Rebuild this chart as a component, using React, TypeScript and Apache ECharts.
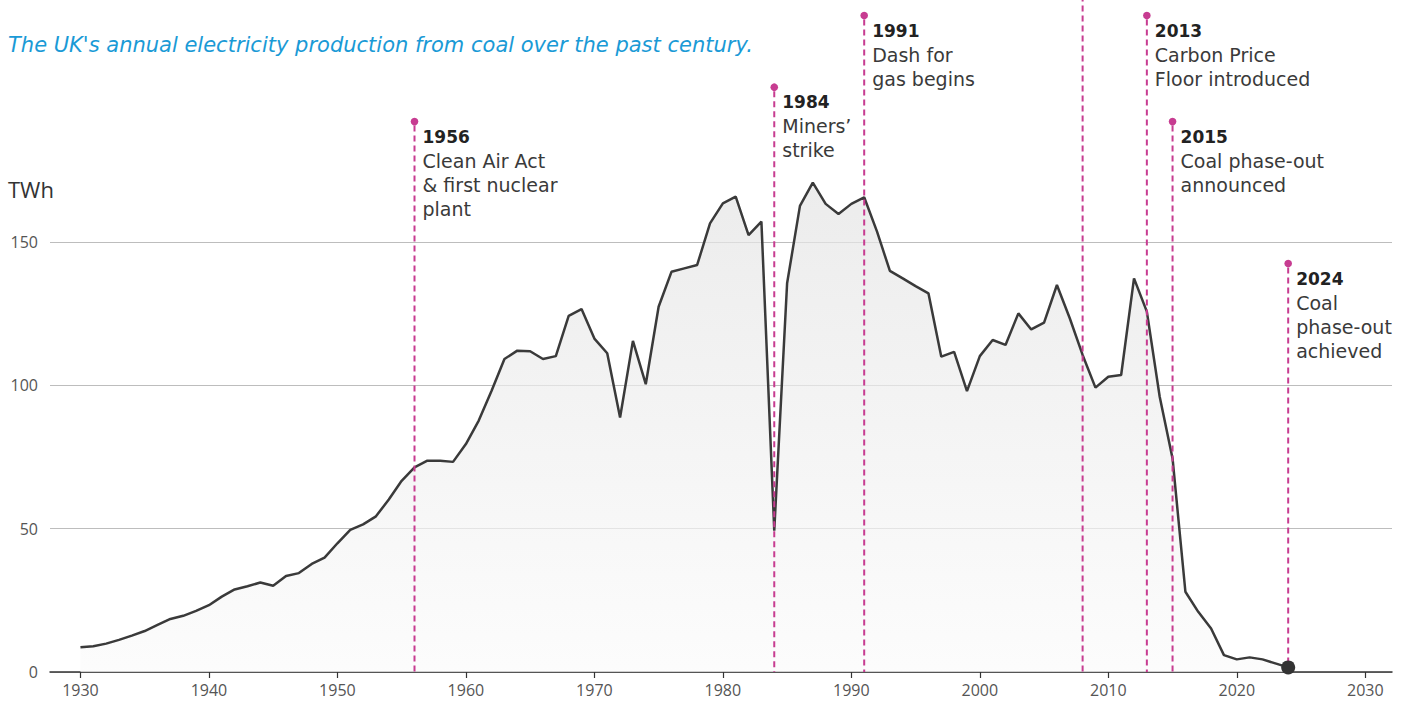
import React, { useEffect, useRef } from "react";
import * as echarts from "echarts";

const START_YEAR = 1930;
const coalTWh = [
  8.6, 9.0, 9.9, 11.2, 12.7, 14.3, 16.4, 18.5, 19.6, 21.3,
  23.3, 26.3, 28.8, 29.9, 31.2, 30.1, 33.5, 34.5, 37.7, 39.9,
  44.9, 49.6, 51.5, 54.3, 60.2, 66.7, 71.4, 73.7, 73.7, 73.3,
  79.5, 87.7, 98.1, 109.2, 112.1, 111.9, 109.2, 110.2, 124.2, 126.6,
  116.3, 111.2, 88.8, 115.5, 100.4, 127.4, 139.6, 140.8, 142.0, 156.5,
  163.5, 165.8, 152.4, 157.1, 49.3, 135.6, 162.6, 170.7, 163.3, 159.8,
  163.3, 165.6, 153.6, 139.9, 137.3, 134.6, 132.1, 110.0, 111.7, 98.0,
  110.2, 115.8, 114.1, 125.1, 119.5, 121.9, 135.0, 123.4, 110.6, 99.2,
  103.0, 103.6, 137.3, 125.7, 96.0, 74.5, 28.0, 21.0, 15.2, 5.9,
  4.4, 5.1, 4.4, 3.0, 1.6,
];

const xTicks = [1930, 1940, 1950, 1960, 1970, 1980, 1990, 2000, 2010, 2020, 2030];
const yTicks = [0, 50, 100, 150];

const annoYears = [1956, 1984, 1991, 2013, 2015, 2024];
const annoTops = [192, 204, 229, 229, 192, 142.5];
const annoTitles = ["1956", "1984", "1991", "2013", "2015", "2024"];
const annoLines = [
  ["Clean Air Act", "& first nuclear", "plant"],
  ["Miners’", "strike"],
  ["Dash for", "gas begins"],
  ["Carbon Price", "Floor introduced"],
  ["Coal phase-out", "announced"],
  ["Coal", "phase-out", "achieved"],
];
const plainLineYears = [2008];
const plainLineTops = [236];

const TITLE = "The UK's annual electricity production from coal over the past century.";
const UNIT = "TWh";

const MAGENTA = "#c73c91";
const FONT = '"Open Sans", sans-serif';
const AFONT = '"DejaVu Sans", sans-serif';

export default function App() {
  const ref = useRef<HTMLDivElement>(null);
  useEffect(() => {
    document.body.style.margin = "0";
    const chart = echarts.init(ref.current!, undefined, { renderer: "svg" });
    const data = coalTWh.map((v, i) => [START_YEAR + i, v]);
    const last = data[data.length - 1];
    chart.setOption({
      animation: false,
      grid: { left: 50, right: 17, top: 98.67, bottom: 33 },
      xAxis: {
        type: "value",
        min: 1927.63,
        max: 2032.08,
        axisLine: { show: true, lineStyle: { color: "#333", width: 1.5 } },
        axisTick: { show: true, length: 6, lineStyle: { color: "#333", width: 1.2 }, customValues: xTicks },
        axisLabel: { color: "#555", fontSize: 16, fontFamily: FONT, margin: 10, customValues: xTicks, formatter: (v: number) => String(v) },
        splitLine: { show: false },
      },
      yAxis: {
        type: "value",
        min: 0,
        max: 200,
        interval: 50,
        axisLine: { show: false },
        axisTick: { show: false },
        axisLabel: {
          color: "#555",
          fontSize: 16,
          fontFamily: FONT,
          margin: 12,
          showMaxLabel: false,
          formatter: (v: number) => (yTicks.includes(v) ? String(v) : ""),
        },
        splitLine: { show: true, showMaxLine: false, lineStyle: { color: "#bdbdbd", width: 1 } },
      },
      series: [
        {
          type: "line",
          data,
          symbol: "none",
          lineStyle: { color: "#3a3a3a", width: 2.5 },
          areaStyle: {
            color: new echarts.graphic.LinearGradient(0, 0, 0, 1, [
              { offset: 0, color: "#e4e4e4" },
              { offset: 1, color: "#fbfbfb" },
            ]),
          },
          z: 3,
        },
        {
          type: "scatter",
          data: [last],
          symbolSize: 14,
          itemStyle: { color: "#333", opacity: 1 },
          z: 6,
        },
      ],
    });

    const px = (x: number, y: number) => chart.convertToPixel({ gridIndex: 0 }, [x, y]) as number[];
    const graphics: any[] = [
      {
        type: "text",
        style: { text: TITLE, x: 8, y: 45, font: `italic 21px ${AFONT}`, fill: "#1a9ad6", verticalAlign: "middle" },
      },
      {
        type: "text",
        style: { text: UNIT, x: 8, y: 189, font: `22px ${FONT}`, fill: "#333", verticalAlign: "middle" },
      },
    ];
    plainLineYears.forEach((yr, i) => {
      const top = px(yr, plainLineTops[i]);
      const bot = px(yr, 0);
      graphics.push({
        type: "line",
        shape: { x1: top[0], y1: top[1], x2: bot[0], y2: bot[1] },
        style: { stroke: MAGENTA, lineWidth: 2, lineDash: [6, 4] },
        z: 5,
      });
    });
    annoYears.forEach((yr, i) => {
      const top = px(yr, annoTops[i]);
      const bot = px(yr, 0);
      graphics.push({
        type: "line",
        shape: { x1: top[0], y1: top[1] + 4, x2: bot[0], y2: bot[1] },
        style: { stroke: MAGENTA, lineWidth: 2, lineDash: [6, 4] },
        z: 5,
      });
      graphics.push({
        type: "circle",
        shape: { cx: top[0], cy: top[1], r: 3.8 },
        style: { fill: MAGENTA },
        z: 5,
      });
      graphics.push({
        type: "text",
        style: {
          text: annoTitles[i],
          x: top[0] + 8,
          y: top[1] + 15,
          font: `bold 17px ${AFONT}`,
          fill: "#222",
          verticalAlign: "middle",
        },
        z: 5,
      });
      annoLines[i].forEach((ln, j) => {
        graphics.push({
          type: "text",
          style: {
            text: ln,
            x: top[0] + 8,
            y: top[1] + 15 + 24 * (j + 1),
            font: `19px ${AFONT}`,
            fill: "#3a3a3a",
            verticalAlign: "middle",
          },
          z: 5,
        });
      });
    });
    chart.setOption({ graphic: graphics });
    return () => chart.dispose();
  }, []);
  return <div ref={ref} style={{ width: 1409, height: 705 }} />;
}
